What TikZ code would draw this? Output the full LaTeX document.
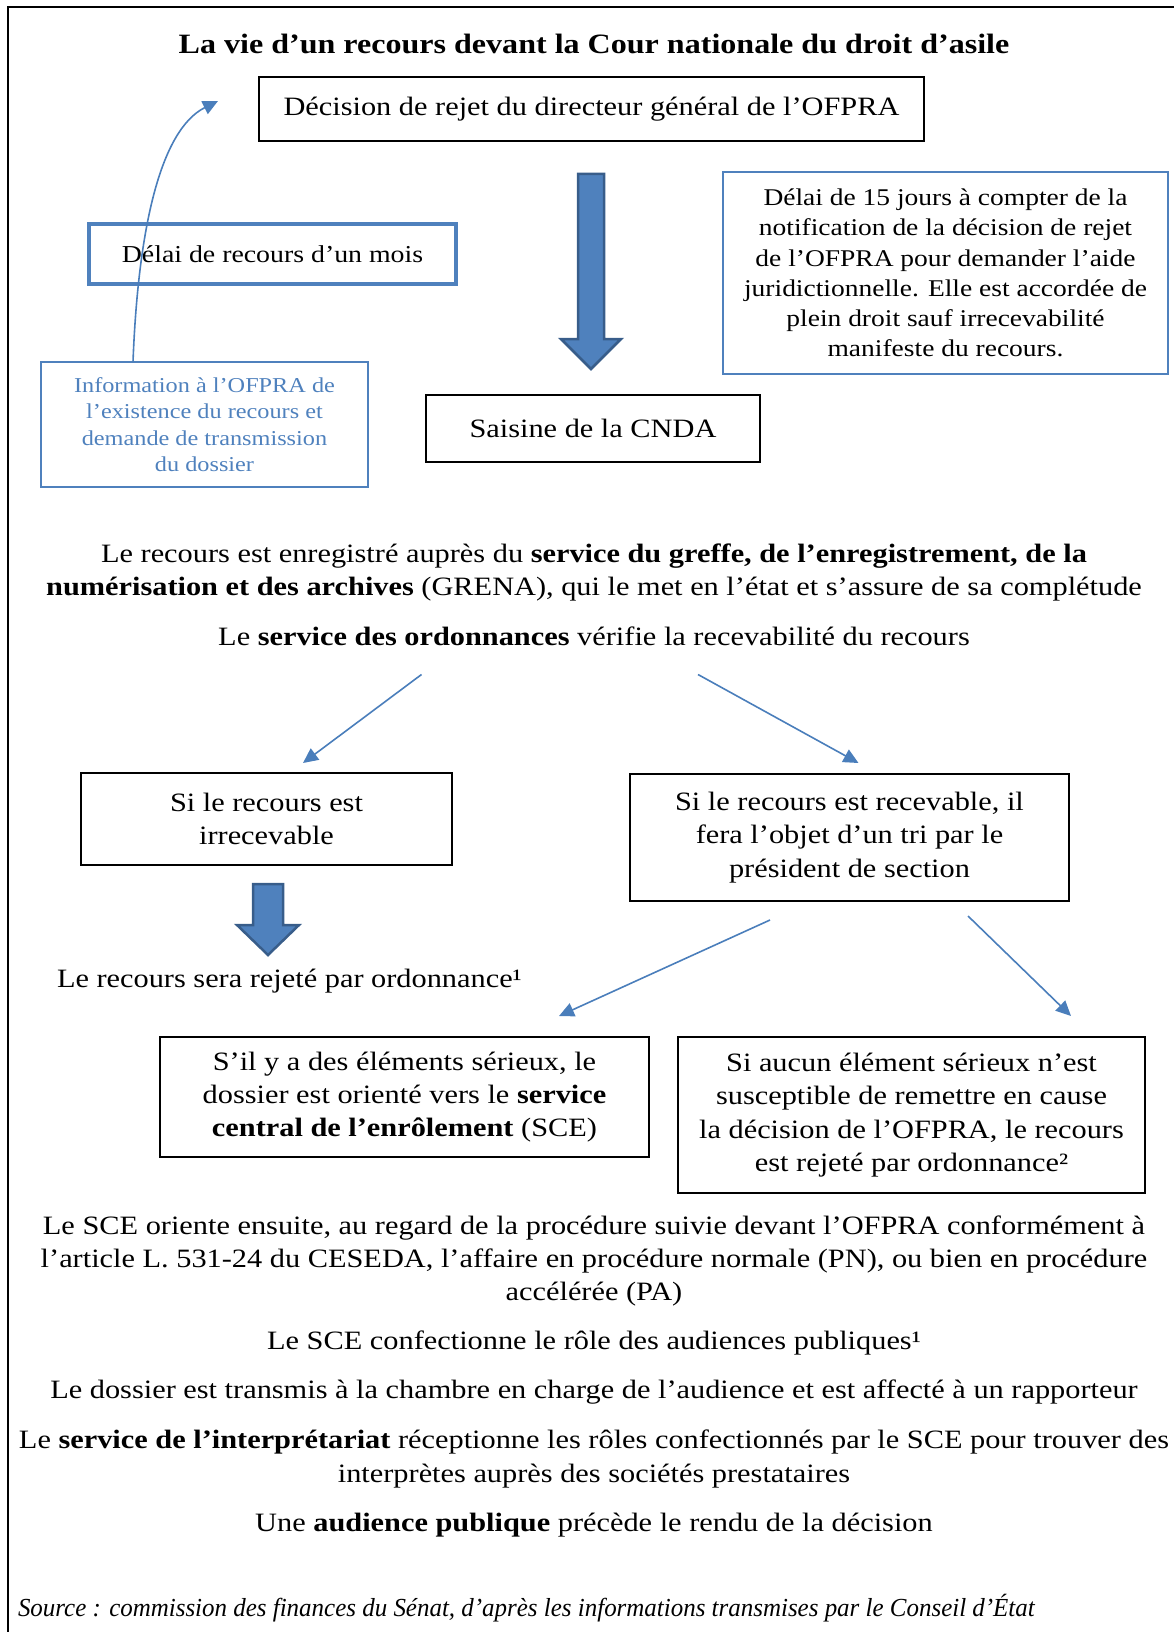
\documentclass[tikz,border=0pt]{standalone}
\usepackage{fontspec}
\setmainfont{Liberation Serif}[FakeStretch=1.145]
\newfontfamily\srcfont{Liberation Serif}[FakeStretch=0.96]
\usetikzlibrary{arrows.meta}
\definecolor{obl}{HTML}{4F81BD}
\definecolor{obd}{HTML}{385D8A}
\definecolor{lbl}{HTML}{4A7EBB}
\begin{document}
\begin{tikzpicture}[x=1pt,y=-1pt,
  every node/.style={inner sep=0pt, outer sep=0pt},
  body/.style={font=\fontsize{26.5}{33.3}\selectfont, align=center},
  bbox/.style={body, draw=black, line width=1.8pt},
  conn/.style={draw=lbl, line width=1.6pt, -{Triangle[length=15pt,width=14pt]}},
  blockarrow/.style={fill=obl, draw=obd, line width=2.5pt, line join=miter}
]
\useasboundingbox (0,0) rectangle (1174,1632);
\draw[line width=2pt] (7.5,1640) -- (7.5,7.5) -- (1180,7.5);

\node[body, font=\fontsize{28}{33}\selectfont\bfseries] (title) at (594,44) {La vie d’un recours devant la Cour nationale du droit d’asile};

\node[bbox, minimum width=665pt, minimum height=64pt] (dec) at (591.5,109) {Décision de rejet du directeur général de l’OFPRA};

\node[draw=obl, line width=1.5pt, minimum width=445pt, minimum height=202pt, align=center, font=\fontsize{24}{30.2}\selectfont] (quinze) at (945.5,273) {Délai de 15 jours à compter de la\\ notification de la décision de rejet\\ de l’OFPRA pour demander l’aide\\ juridictionnelle. Elle est accordée de\\ plein droit sauf irrecevabilité\\ manifeste du recours.};

\node[draw=obl, line width=4.5pt, minimum width=367pt, minimum height=60pt, font=\fontsize{24.3}{30}\selectfont] (mois) at (272.5,254) {Délai de recours d’un mois};

\node[draw=obl, line width=1.3pt, text=obl, minimum width=327pt, minimum height=125pt, align=center, font=\fontsize{21.2}{26.3}\selectfont] (info) at (204.5,424.5) {Information à l’OFPRA de\\ l’existence du recours et\\ demande de transmission\\ du dossier};

\node[bbox, minimum width=334pt, minimum height=67pt] (saisine) at (593,428.5) {Saisine de la CNDA};

\draw[blockarrow] (578,174) -- (604,174) -- (604,339) -- (621,339) -- (591,369) -- (561,339) -- (578,339) -- cycle;

\node[body] (greffe) at (594,572.5) {Le recours est enregistré auprès du \textbf{service du greffe, de l’enregistrement, de la}\\ \textbf{numérisation et des archives} (GRENA), qui le met en l’état et s’assure de sa complétude};

\node[body] (ordo) at (594,636) {Le \textbf{service des ordonnances} vérifie la recevabilité du recours};

\coordinate (o1) at (421.5,674.5); \coordinate (o1e) at (303,763);
\coordinate (o2) at (698,674.5); \coordinate (o2e) at (858.5,763);
\draw[conn] (o1) -- (o1e);
\draw[conn] (o2) -- (o2e);

\node[bbox, minimum width=371pt, minimum height=92pt] (irr) at (266.5,819) {Si le recours est\\ irrecevable};
\node[bbox, minimum width=439pt, minimum height=127pt] (rec) at (849.5,837.5) {Si le recours est recevable, il\\ fera l’objet d’un tri par le\\ président de section};

\draw[blockarrow] (253,884) -- (283,884) -- (283,925) -- (299,925) -- (268,955) -- (237,925) -- (253,925) -- cycle;

\node[body, anchor=west] (rejet1) at (57,981) {Le recours sera rejeté par ordonnance¹};

\coordinate (t1) at (770,920); \coordinate (t1e) at (559,1016);
\coordinate (t2) at (968,916); \coordinate (t2e) at (1071,1016);
\draw[conn] (t1) -- (t1e);
\draw[conn] (t2) -- (t2e);

\node[bbox, minimum width=489pt, minimum height=120pt] (serieux) at (404.5,1097) {S’il y a des éléments sérieux, le\\ dossier est orienté vers le \textbf{service}\\ \textbf{central de l’enrôlement} (SCE)};
\node[bbox, minimum width=467pt, minimum height=156pt] (aucun) at (911.5,1115) {Si aucun élément sérieux n’est\\ susceptible de remettre en cause\\ la décision de l’OFPRA, le recours\\ est rejeté par ordonnance²};

\node[body] (sce) at (594,1261) {Le SCE oriente ensuite, au regard de la procédure suivie devant l’OFPRA conformément à\\ l’article L. 531-24 du CESEDA, l’affaire en procédure normale (PN), ou bien en procédure\\ accélérée (PA)};

\node[body] (role) at (594,1343) {Le SCE confectionne le rôle des audiences publiques¹};
\node[body] (chambre) at (594,1392) {Le dossier est transmis à la chambre en charge de l’audience et est affecté à un rapporteur};
\node[body] (interp) at (594,1459) {Le \textbf{service de l’interprétariat} réceptionne les rôles confectionnés par le SCE pour trouver des\\ interprètes auprès des sociétés prestataires};
\node[body] (aud) at (594,1525) {Une \textbf{audience publique} précède le rendu de la décision};

\node[anchor=west, font=\fontsize{26}{30}\selectfont\srcfont\itshape] (src) at (18,1608) {Source : commission des finances du Sénat, d’après les informations transmises par le Conseil d’État};

\coordinate (cs) at (133,362); \coordinate (ce) at (218,101);
\draw[conn] (cs) .. controls (138,230) and (160,130) .. (ce);
\end{tikzpicture}
\end{document}
